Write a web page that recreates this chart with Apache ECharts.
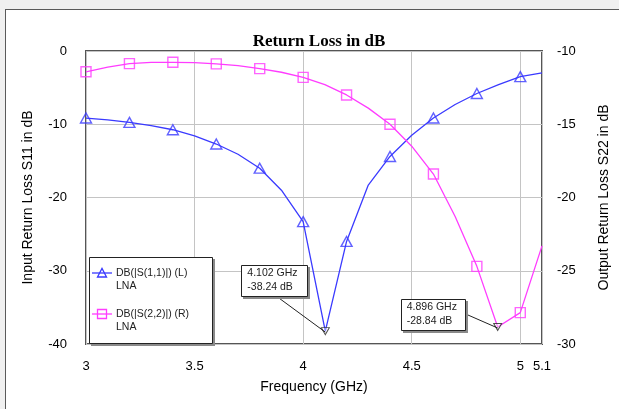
<!DOCTYPE html>
<html><head><meta charset="utf-8">
<script src="https://cdn.jsdelivr.net/npm/echarts/dist/echarts.min.js"></script>
<style>
html,body{margin:0;padding:0;background:#f0f0f0;overflow:hidden}
#panel{position:absolute;left:5px;top:9px;width:700px;height:500px;background:#fff;border:1px solid #5a5a5a;box-sizing:border-box}
#chart{position:absolute;left:0;top:0;width:619px;height:409px}
</style></head><body>
<div id="panel"></div><div id="chart"></div>
<script>
// ---- data ----
const titleText = 'Return Loss in dB';
const xName = 'Frequency (GHz)';
const yLeftName = 'Input Return Loss S11 in dB';
const yRightName = 'Output Return Loss S22 in dB';
const s11Name = 'DB(|S(1,1)|) (L)';
const s22Name = 'DB(|S(2,2)|) (R)';
const circuitName = 'LNA';

const s11Freq = [3.0,3.1,3.2,3.3,3.4,3.5,3.6,3.7,3.8,3.9,4.0,4.102,4.2,4.3,4.4,4.5,4.6,4.7,4.8,4.9,5.0,5.1];
const s11Db   = [-9.15,-9.4,-9.75,-10.2,-10.75,-11.6,-12.7,-14.1,-16.0,-19.0,-23.3,-38.24,-26.0,-18.3,-14.4,-11.5,-9.15,-7.3,-5.8,-4.6,-3.5,-3.0];
const s22Freq = [3.0,3.1,3.2,3.3,3.4,3.5,3.6,3.7,3.8,3.9,4.0,4.1,4.2,4.3,4.4,4.5,4.6,4.7,4.8,4.896,5.0,5.1];
const s22Db   = [-11.42,-11.1,-10.86,-10.78,-10.77,-10.8,-10.88,-11.0,-11.2,-11.45,-11.8,-12.3,-13.0,-13.9,-15.0,-16.5,-18.4,-21.3,-24.7,-28.84,-27.86,-23.3];
const s11Min = [4.102, -38.24];
const s22Min = [4.896, -28.84];

const xTicks = {min: 3, max: 5.1, interval: 0.5};
const yLeftTicks = {min: -40, max: 0, interval: 10};
const yRightTicks = {min: -30, max: -10, interval: 5};

// ---- styling ----
const BLUE = '#3a3aff';
const MAG = '#ff3cff';
const SANS = 'Liberation Sans, Arial, sans-serif';
const SERIF = 'Liberation Serif, Times New Roman, serif';

const zip = (a, b) => a.map((v, i) => [v, b[i]]);
const markerPts = (f, d) => zip(f, d).filter(p => Math.abs(p[0] * 5 - Math.round(p[0] * 5)) < 1e-6 && p[0] <= 5.0001);

const chart = echarts.init(document.getElementById('chart'), null, {renderer: 'canvas'});
const labelStyle = {color: '#000', fontSize: 13, fontFamily: SANS};

chart.setOption({
  backgroundColor: 'transparent',
  animation: false,
  title: {
    text: titleText, left: 314, top: 28, textAlign: 'center',
    textStyle: {fontFamily: SERIF, fontWeight: 'bold', fontSize: 17, color: '#000'}
  },
  grid: {left: 86, right: 76, top: 51, bottom: 65, show: true, borderColor: '#555', borderWidth: 2, backgroundColor: 'transparent'},
  xAxis: {
    type: 'value', min: xTicks.min, max: xTicks.max, interval: xTicks.interval,
    name: xName, nameLocation: 'middle', nameGap: 36,
    nameTextStyle: {color: '#000', fontSize: 14, fontFamily: SANS},
    axisLine: {show: false}, axisTick: {show: false},
    axisLabel: Object.assign({margin: 16}, labelStyle),
    splitLine: {show: true, lineStyle: {color: '#c4c4c4', width: 1}}
  },
  yAxis: [{
    type: 'value', position: 'left', min: yLeftTicks.min, max: yLeftTicks.max, interval: yLeftTicks.interval,
    name: yLeftName, nameLocation: 'middle', nameGap: 51, nameRotate: 90,
    nameTextStyle: {color: '#000', fontSize: 14, fontFamily: SANS},
    axisLine: {show: false}, axisTick: {show: false},
    axisLabel: Object.assign({margin: 19}, labelStyle),
    splitLine: {show: true, lineStyle: {color: '#c4c4c4', width: 1}}
  }, {
    type: 'value', position: 'right', min: yRightTicks.min, max: yRightTicks.max, interval: yRightTicks.interval,
    name: yRightName, nameLocation: 'middle', nameGap: 55, nameRotate: 90,
    nameTextStyle: {color: '#000', fontSize: 14, fontFamily: SANS},
    axisLine: {show: false}, axisTick: {show: false},
    axisLabel: Object.assign({margin: 15}, labelStyle),
    splitLine: {show: false}
  }],
  series: [
    {type: 'line', name: s11Name, yAxisIndex: 0, data: zip(s11Freq, s11Db), showSymbol: false, smooth: false,
     lineStyle: {color: BLUE, width: 1.3}, z: 3},
    {type: 'scatter', yAxisIndex: 0, data: markerPts(s11Freq, s11Db), symbol: 'triangle', symbolSize: [11, 10],
     itemStyle: {color: 'rgba(255,255,255,0)', borderColor: BLUE, borderWidth: 1.4}, z: 4},
    {type: 'line', name: s22Name, yAxisIndex: 1, data: zip(s22Freq, s22Db), showSymbol: false, smooth: false,
     lineStyle: {color: MAG, width: 1.3}, z: 3},
    {type: 'scatter', yAxisIndex: 1, data: markerPts(s22Freq, s22Db), symbol: 'rect', symbolSize: 10,
     itemStyle: {color: 'rgba(255,255,255,0)', borderColor: MAG, borderWidth: 1.4}, z: 4},
    {type: 'scatter', yAxisIndex: 0, data: [s11Min], symbol: 'triangle', symbolRotate: 180, symbolSize: [8, 7],
     itemStyle: {color: 'rgba(255,255,255,0.5)', borderColor: '#222', borderWidth: 1}, z: 6},
    {type: 'scatter', yAxisIndex: 1, data: [s22Min], symbol: 'triangle', symbolRotate: 180, symbolSize: [8, 7],
     itemStyle: {color: 'rgba(255,255,255,0.5)', borderColor: '#222', borderWidth: 1}, z: 6}
  ]
});

// ---- legend box and marker annotations ----
const txt = (x, y, s) => ({type: 'text', x, y, z: 20, style: {text: s, fill: '#222', font: '10.5px ' + SANS, textVerticalAlign: 'middle'}});
const box = (x, y, w, h, z) => [
  {type: 'rect', z: z, shape: {x: x + 2, y: y + 2, width: w + 1, height: h + 1}, style: {fill: '#8a8a8a'}},
  {type: 'rect', z: z + 1, shape: {x: x + 0.5, y: y + 0.5, width: w, height: h}, style: {fill: '#fff', stroke: '#222', lineWidth: 1}}
];

const p1 = chart.convertToPixel({xAxisIndex: 0, yAxisIndex: 0}, s11Min);
const p2 = chart.convertToPixel({xAxisIndex: 0, yAxisIndex: 1}, s22Min);
const fmtF = v => v.toFixed(3) + ' GHz';
const fmtD = v => v.toFixed(2) + ' dB';

const annot = (p, dx, dy, w, h, lx, ly, m) => [
  {type: 'line', z: 17, shape: {x1: p[0] + lx, y1: p[1] + ly, x2: p[0], y2: p[1] + 1}, style: {stroke: '#222', lineWidth: 1}},
  ...box(Math.round(p[0] + dx), Math.round(p[1] + dy), w, h, 18),
  txt(p[0] + dx + 6, p[1] + dy + 8.5, fmtF(m[0])),
  txt(p[0] + dx + 6, p[1] + dy + 22.5, fmtD(m[1]))
];

const legendX = 89, legendY = 257;
chart.setOption({
  graphic: [
    ...box(legendX, legendY, 123, 86, 14),
    {type: 'line', z: 16, shape: {x1: legendX + 3, y1: legendY + 16, x2: legendX + 23, y2: legendY + 16}, style: {stroke: BLUE, lineWidth: 1.3}},
    {type: 'polygon', z: 17, shape: {points: [[legendX + 8.5, legendY + 20], [legendX + 17.5, legendY + 20], [legendX + 13, legendY + 11.5]]},
     style: {fill: 'rgba(255,255,255,0)', stroke: BLUE, lineWidth: 1.3}},
    txt(legendX + 27, legendY + 16, s11Name),
    txt(legendX + 27, legendY + 29, circuitName),
    {type: 'line', z: 16, shape: {x1: legendX + 3, y1: legendY + 57, x2: legendX + 23, y2: legendY + 57}, style: {stroke: MAG, lineWidth: 1.3}},
    {type: 'rect', z: 17, shape: {x: legendX + 8.5, y: legendY + 52.5, width: 9, height: 9},
     style: {fill: 'rgba(255,255,255,0)', stroke: MAG, lineWidth: 1.3}},
    txt(legendX + 27, legendY + 57, s22Name),
    txt(legendX + 27, legendY + 70, circuitName),
    ...annot(p1, -84, -66, 66, 31, -49, -35, s11Min),
    ...annot(p2, -97, -28, 64, 31, -32, -13, s22Min)
  ]
});
</script>
</body></html>
